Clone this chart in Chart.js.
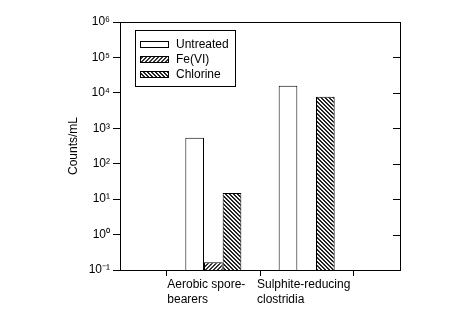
<!DOCTYPE html>
<html>
<head>
<meta charset="utf-8">
<script src="https://cdn.jsdelivr.net/npm/chart.js@4"></script>
<style>
  html, body { margin: 0; padding: 0; background: #fff; }
  #wrap { width: 470px; height: 323px; }
</style>
</head>
<body>
<div id="wrap"><canvas id="countChart" width="470" height="323"></canvas></div>
<script>
// categories (blank slots at both ends give the axis its end ticks)
var categories = ["", ["Aerobic spore-", "bearers"], ["Sulphite-reducing", "clostridia"], ""];
var seriesNames = ["Untreated", "Fe(VI)", "Chlorine"];
var untreated = [null, 540, 16000, null];
var feVI = [null, 0.165, null, null];
var chlorine = [null, 15, 7800, null];
var yTickValues = [0.1, 1, 10, 100, 1000, 10000, 100000, 1000000];
var yTickLabels = ["10\u207B\u00B9", "10\u2070", "10\u00B9", "10\u00B2", "10\u00B3", "10\u2074", "10\u2075", "10\u2076"];

function hatch(dir, size, ink) {
    var c = document.createElement("canvas");
    c.width = size; c.height = size;
    var g = c.getContext("2d");
    g.fillStyle = "#f4f4f4";
    g.fillRect(0, 0, size, size);
    g.fillStyle = ink;
    for (var i = 0; i < size; i++) {
        // two pixel wide diagonal
        if (dir == "/") {
            g.fillRect(i, size - 1 - i, 1, 1);
            g.fillRect(i, (2 * size - 2 - i) % size, 1, 1);
        } else {
            g.fillRect(i, i, 1, 1);
            g.fillRect(i, (i + 1) % size, 1, 1);
        }
    }
    return document.getElementById("countChart").getContext("2d").createPattern(c, "repeat");
}
var fePattern = hatch("/", 4, "#333333");
var clPattern = hatch("\\", 4, "#222222");

var frameAndLegend = {
    id: "frameAndLegend",
    afterDraw: function (chart) {
        var ctx = chart.ctx;
        var a = chart.chartArea;
        var y = chart.scales.y;
        var x = chart.scales.x;
        ctx.save();
        ctx.strokeStyle = "#000";
        ctx.lineWidth = 1;
        // box
        ctx.strokeRect(Math.round(a.left) + 0.5, Math.round(a.top) + 0.5,
            Math.round(a.right - a.left), Math.round(a.bottom - a.top));
        // inward ticks on the right side
        ctx.beginPath();
        yTickValues.forEach(function (v) {
            var py = Math.round(y.getPixelForValue(v)) + 0.5;
            ctx.moveTo(a.right, py);
            ctx.lineTo(a.right - 7, py);
        });
        ctx.stroke();

        // category labels, left aligned block
        ctx.fillStyle = "#000";
        ctx.font = "12px 'Liberation Sans', Arial, sans-serif";
        ctx.textAlign = "left";
        ctx.textBaseline = "middle";
        categories.forEach(function (lab, i) {
            if (!lab) return;
            var lines = Array.isArray(lab) ? lab : [lab];
            var w = 0;
            lines.forEach(function (l) { w = Math.max(w, ctx.measureText(l).width); });
            var px = x.getPixelForValue(i);
            var sx = px - w / 2 - (i == 1 ? 7 : 3);
            lines.forEach(function (l, k) {
                ctx.fillText(l, sx, a.bottom + 15 + k * 15);
            });
        });

        // legend
        ctx.strokeRect(135.5, 30.5, 100, 56);
        chart.data.datasets.forEach(function (ds, i) {
            var cy = 45 + i * 15;
            ctx.fillStyle = ds.backgroundColor;
            ctx.fillRect(140, cy - 3, 29, 6);
            ctx.strokeRect(140.5, cy - 3.5, 28, 6);
            ctx.fillStyle = "#000";
            ctx.fillText(ds.label, 176, cy);
        });
        ctx.restore();
    }
};

var ctx = document.getElementById("countChart").getContext("2d");
var countChart = new Chart(ctx, {
    type: "bar",
    data: {
        labels: categories,
        datasets: [
            { label: seriesNames[0], data: untreated, backgroundColor: "#ffffff" },
            { label: seriesNames[1], data: feVI, backgroundColor: fePattern },
            { label: seriesNames[2], data: chlorine, backgroundColor: clPattern }
        ]
    },
    options: {
        responsive: false,
        animation: false,
        layout: { padding: { top: 22, right: 70, left: 0, bottom: 0 } },
        datasets: {
            bar: {
                borderColor: "#000",
                borderWidth: 1,
                categoryPercentage: 0.6,
                barPercentage: 1.0,
                skipNull: false
            }
        },
        plugins: {
            legend: { display: false },
            tooltip: { enabled: false }
        },
        scales: {
            x: {
                offset: false,
                grid: {
                    drawOnChartArea: false,
                    drawTicks: true,
                    tickLength: 6,
                    color: "#000"
                },
                border: { display: true, color: "#000" },
                ticks: { display: true, color: "rgba(0,0,0,0)", autoSkip: false, maxRotation: 0 },
                afterFit: function (s) { s.height = 53; }
            },
            y: {
                type: "logarithmic",
                min: 0.1,
                max: 1000000,
                afterBuildTicks: function (s) {
                    s.ticks = yTickValues.map(function (v) { return { value: v }; });
                },
                afterFit: function (s) { s.width = 120; },
                grid: {
                    drawOnChartArea: false,
                    drawTicks: true,
                    tickLength: 7,
                    color: "#000"
                },
                border: { display: true, color: "#000" },
                ticks: {
                    padding: 3,
                    color: "#000",
                    font: { family: "'Liberation Sans', Arial, sans-serif", size: 12 },
                    callback: function (v) {
                        var i = yTickValues.indexOf(v);
                        return i >= 0 ? yTickLabels[i] : "";
                    }
                },
                title: {
                    display: true,
                    text: "Counts/mL",
                    color: "#000",
                    font: { family: "'Liberation Sans', Arial, sans-serif", size: 12 },
                    padding: { top: 66, bottom: 0 }
                }
            }
        }
    },
    plugins: [frameAndLegend]
});
</script>
</body>
</html>
